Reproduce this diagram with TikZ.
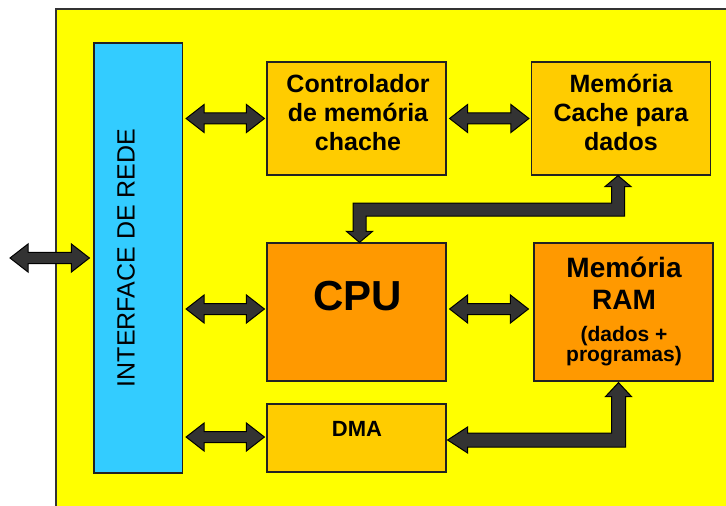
\documentclass[tikz,border=0pt]{standalone}
\usepackage{fontspec}
\setmainfont{Liberation Sans}
\usetikzlibrary{calc}

\definecolor{panel}{HTML}{FFFF00}
\definecolor{netblue}{HTML}{33CCFF}
\definecolor{gold}{HTML}{FFCC00}
\definecolor{amber}{HTML}{FF9900}
\definecolor{arrowgray}{HTML}{333333}
\definecolor{edge}{HTML}{222222}

% horizontal double-headed block arrow between a left tip and a right tip
\newcommand\dblarrow[2]{%
  \filldraw[blockarrow] let \p1=(#1), \p2=(#2) in
    (\x1,\y1) -- (\x1+18bp,\y1+14bp) -- (\x1+18bp,\y1+5.5bp)
    -- (\x2-18bp,\y1+5.5bp) -- (\x2-18bp,\y1+14bp) -- (\x2,\y1)
    -- (\x2-18bp,\y1-14bp) -- (\x2-18bp,\y1-5.5bp)
    -- (\x1+18bp,\y1-5.5bp) -- (\x1+18bp,\y1-14bp) -- cycle;}

% Z-shaped block arrow: up tip (#1), down tip (#2), bar 34bp below #1
\newcommand\zarrow[2]{%
  \filldraw[blockarrow] let \p1=(#1), \p2=(#2), \p3=($(#1)+(0,34)$) in
    (\x1,\y1) -- (\x1+13bp,\y1-11bp) -- (\x1+6.5bp,\y1-11bp)
    -- (\x1+6.5bp,\y3-6.5bp) -- (\x2+6.5bp,\y3-6.5bp)
    -- (\x2+6.5bp,\y2+11bp) -- (\x2+13bp,\y2+11bp) -- (\x2,\y2)
    -- (\x2-13bp,\y2+11bp) -- (\x2-6.5bp,\y2+11bp)
    -- (\x2-6.5bp,\y3+6.5bp) -- (\x1-6.5bp,\y3+6.5bp)
    -- (\x1-6.5bp,\y1-11bp) -- (\x1-13bp,\y1-11bp) -- cycle;}

% L-shaped block arrow: up tip (#1), left tip (#2)
\newcommand\larrow[2]{%
  \filldraw[blockarrow] let \p1=(#1), \p2=(#2) in
    (\x1,\y1) -- (\x1+13bp,\y1-14bp) -- (\x1+7bp,\y1-14bp)
    -- (\x1+7bp,\y2-7bp) -- (\x2+20bp,\y2-7bp) -- (\x2+20bp,\y2-13bp)
    -- (\x2,\y2) -- (\x2+20bp,\y2+13bp) -- (\x2+20bp,\y2+7bp)
    -- (\x1-7bp,\y2+7bp) -- (\x1-7bp,\y1-14bp) -- (\x1-13bp,\y1-14bp) -- cycle;}

\begin{document}
\begin{tikzpicture}[x=1bp,y=-1bp,
  box/.style={draw=edge, line width=1.2bp, inner sep=0pt},
  blockarrow/.style={fill=arrowgray, draw=black, line width=1bp, line join=miter},
  boldtxt/.style={font=\fontsize{25bp}{29bp}\selectfont\bfseries, align=center, inner sep=0pt}]
\useasboundingbox (0,0) rectangle (726,506);

% board
\filldraw[fill=panel, draw=arrowgray, line width=2bp] (56,9) rectangle (740,520);

% blocks
\node[box, fill=netblue, minimum width=88.5bp, minimum height=430bp] (net) at (138.25,258) {};
\node[box, fill=gold, minimum width=179bp, minimum height=113bp] (ctrl) at (356.5,118.5) {};
\node[box, fill=gold, minimum width=179bp, minimum height=113bp] (cache) at (621,118.5) {};
\node[box, fill=amber, minimum width=179bp, minimum height=138bp] (cpu) at (356.5,312) {};
\node[box, fill=amber, minimum width=179bp, minimum height=138bp] (ram) at (623.5,312) {};
\node[box, fill=gold, minimum width=179bp, minimum height=68bp] (dma) at (356.5,438) {};

% labels
\node[font=\fontsize{25bp}{29bp}\selectfont, rotate=90, inner sep=0pt] (nettxt) at (126,258) {INTERFACE DE REDE};
\node[boldtxt] (ctrltxt) at (358,113) {Controlador\\de memória\\chache};
\node[boldtxt] (cachetxt) at (621,112) {Memória\\Cache para\\dados};
\node[font=\fontsize{42bp}{48bp}\selectfont\bfseries, anchor=base, inner sep=0pt] (cputxt) at (357.5,310) {CPU};
\node[boldtxt, font=\fontsize{28bp}{32bp}\selectfont\bfseries] (ramtxt) at (624,283) {Memória\\RAM};
\node[boldtxt, font=\fontsize{21bp}{19.5bp}\selectfont\bfseries] (ramsub) at (624,346) {(dados +\\programas)};
\node[font=\fontsize{22bp}{26bp}\selectfont\bfseries, anchor=base, inner sep=0pt] (dmatxt) at (357,436) {DMA};

% connectors
\coordinate (ext) at (10,258);
\dblarrow{ext}{$(net.west)+(-4,0)$}
\dblarrow{$(net.east |- ctrl.west)+(3,0)$}{$(ctrl.west)+(-2,0)$}
\dblarrow{$(ctrl.east)+(3,0)$}{$(cache.west)+(-2,0)$}
\dblarrow{$(net.east |- cpu.west)+(3,-3)$}{$(cpu.west)+(-2,-3)$}
\dblarrow{$(cpu.east)+(3,-3)$}{$(ram.west)+(-5,-3)$}
\dblarrow{$(net.east |- dma.west)+(3,-1)$}{$(dma.west)+(-2,-1)$}
\zarrow{$(cache.south)+(-3,0)$}{$(cpu.north)+(3,0)$}
\larrow{$(ram.south)+(-5,1)$}{$(dma.east)+(1,2)$}
\end{tikzpicture}
\end{document}
